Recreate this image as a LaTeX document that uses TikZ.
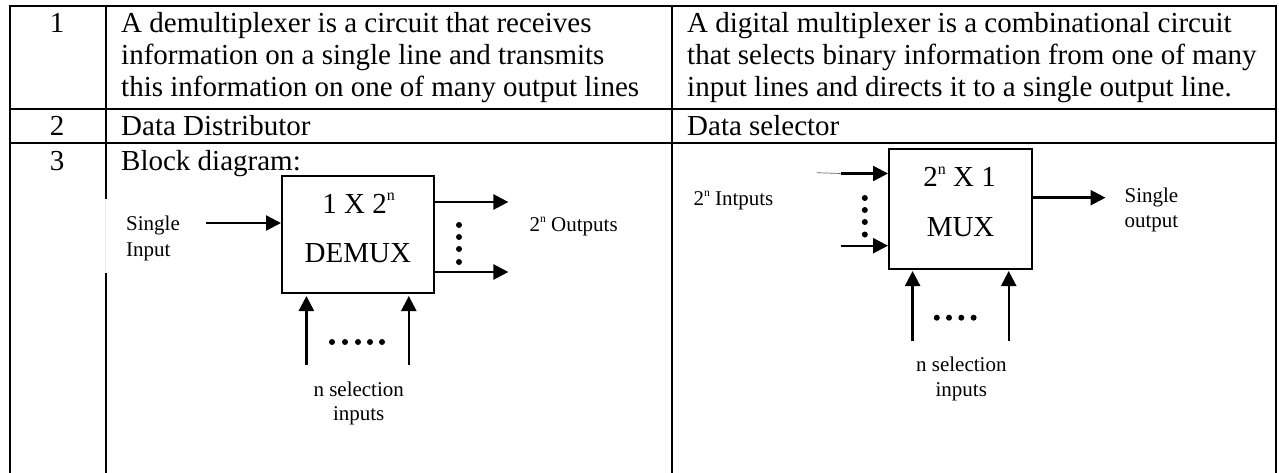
\documentclass[tikz,border=0pt]{standalone}
\usepackage{fontspec}
\setmainfont{Liberation Serif}
\usetikzlibrary{arrows.meta}
\tikzset{
  rule/.style={line width=2.2pt,black},
  body/.style={anchor=base west,inner sep=0pt,font=\fontsize{29}{32}\selectfont},
  num/.style={anchor=base,inner sep=0pt,font=\fontsize{29}{32}\selectfont},
  big/.style={anchor=base,inner sep=0pt,font=\fontsize{29}{32}\selectfont},
  lab/.style={anchor=base west,inner sep=0pt,font=\fontsize{21}{24}\selectfont},
  labc/.style={anchor=base,inner sep=0pt,font=\fontsize{21}{24}\selectfont},
  blockbox/.style={draw,line width=2pt,inner sep=0pt,minimum width=#1},
  conn/.style={line width=2.4pt,-{Triangle[length=15pt,width=15pt]}},
  dotm/.style={circle,fill=black,inner sep=0pt,minimum size=6pt}
}
\newcommand{\powern}{2\raisebox{.42em}{\scalebox{.55}{n}}}
\begin{document}
\begin{tikzpicture}[x=1pt,y=-1pt]
\useasboundingbox (0,0) rectangle (1279,473);
% table
\draw[rule] (10,473) -- (10,5.7) -- (1275.7,5.7) -- (1275.7,473);
\draw[rule] (9,108.7) -- (1276.7,108.7);
\draw[rule] (9,143.4) -- (1276.7,143.4);
\draw[rule] (105.7,5.7) -- (105.7,199);
\draw[rule] (105.7,273) -- (105.7,473);
\draw[line width=.8pt,black!8] (105.7,199) -- (105.7,273);
\draw[rule] (672,5.7) -- (672,473);
% table text
\node[num] (n1) at (57,33) {1};
\node[num] (n2) at (57,135.7) {2};
\node[num] (n3) at (57,170.7) {3};
\node[body] (a1) at (121,33) {A demultiplexer is a circuit that receives};
\node[body] (a2) at (121,65) {information on a single line and transmits};
\node[body] (a3) at (121,97) {this information on one of many output lines};
\node[body] (b1) at (687,33) {A digital multiplexer is a combinational circuit};
\node[body] (b2) at (687,65) {that selects binary information from one of many};
\node[body] (b3) at (687,97) {input lines and directs it to a single output line.};
\node[body] (a4) at (121,135.7) {Data Distributor};
\node[body] (b4) at (687,135.7) {Data selector};
\node[body] (a5) at (121,170.7) {Block diagram:};
% DEMUX
\node[blockbox=152pt,minimum height=117pt] (demux) at (358,234.5) {};
\node[big] (d1) at (358.7,213) {1 X \powern};
\node[big] (d2) at (357.8,262.7) {DEMUX};
\coordinate (din) at (206,223);
\draw[conn] (din) -- (din -| demux.west);
\node[lab] (si1) at (126,230) {Single};
\node[lab] (si2) at (126,256) {Input};
\coordinate (do1) at (508.4,202);
\coordinate (do2) at (508.4,272);
\draw[conn] (do1 -| demux.east) -- (do1);
\draw[conn] (do2 -| demux.east) -- (do2);
\node[lab] (dol) at (529.5,231.7) {\powern{} Outputs};
\node[dotm] (dv1) at (459,225) {};
\node[dotm] (dv2) at (459,237) {};
\node[dotm] (dv3) at (459,249) {};
\node[dotm] (dv4) at (459,262) {};
\coordinate (ds1) at (306.4,365);
\coordinate (ds2) at (408.8,365);
\coordinate (dt1) at (306.4,296);
\coordinate (dt2) at (408.8,296);
\draw[conn] (ds1) -- (dt1);
\draw[conn] (ds2) -- (dt2);
\node[dotm] (dh1) at (332,342) {};
\node[dotm] (dh2) at (345,342) {};
\node[dotm] (dh3) at (358,342) {};
\node[dotm] (dh4) at (370,342) {};
\node[dotm] (dh5) at (382,342) {};
\node[labc] (dsl1) at (358.7,396) {n selection};
\node[labc] (dsl2) at (358.7,420) {inputs};
% MUX
\node[blockbox=143pt,minimum height=120.5pt] (mux) at (960.5,209.2) {};
\node[big] (m1) at (959.6,186.7) {\powern{} X 1};
\node[big] (m2) at (960.6,236.7) {MUX};
\coordinate (mi1) at (840.6,173.5);
\coordinate (mi2) at (840.6,245.7);
\coordinate (mi0) at (816.8,172.7);
\draw[conn] (mi1) -- (mi1 -| mux.west);
\draw[conn] (mi2) -- (mi2 -| mux.west);
\draw[line width=.7pt,black!60] (mi0) -- (mi1);
\node[lab] (mil) at (693.3,205) {\powern{} Intputs};
\node[dotm] (mv1) at (864.8,198) {};
\node[dotm] (mv2) at (864.8,210) {};
\node[dotm] (mv3) at (864.8,222) {};
\node[dotm] (mv4) at (864.8,234.5) {};
\coordinate (mo) at (1105.5,197.7);
\draw[conn] (mo -| mux.east) -- (mo);
\node[lab] (mol1) at (1124.4,202.7) {Single};
\node[lab] (mol2) at (1124.4,227.7) {output};
\coordinate (ms1) at (912.6,341);
\coordinate (ms2) at (1008.7,341);
\coordinate (mt1) at (912.6,271);
\coordinate (mt2) at (1008.7,271);
\draw[conn] (ms1) -- (mt1);
\draw[conn] (ms2) -- (mt2);
\node[dotm] (mh1) at (936.8,317.7) {};
\node[dotm] (mh2) at (949,317.7) {};
\node[dotm] (mh3) at (961.3,317.7) {};
\node[dotm] (mh4) at (973.6,317.7) {};
\node[labc] (msl1) at (961.3,371.7) {n selection};
\node[labc] (msl2) at (961.3,396.7) {inputs};
\end{tikzpicture}
\end{document}
